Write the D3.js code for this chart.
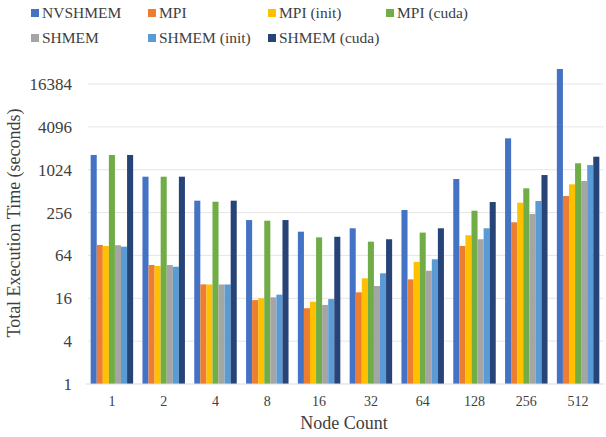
<!DOCTYPE html>
<html><head><meta charset="utf-8">
<script src="https://cdn.jsdelivr.net/npm/d3@7"></script>
<style>body{margin:0;background:#fff}svg{display:block}</style>
</head><body><svg id="c" width="606" height="437"></svg>
<script>
const categories = ["1","2","4","8","16","32","64","128","256","512"];
const seriesNames = ["NVSHMEM","MPI","MPI (init)","MPI (cuda)","SHMEM","SHMEM (init)","SHMEM (cuda)"];
const nvshmem   = [1650, 817, 376, 201, 138, 154, 278, 758, 2825, 26600];
const mpi       = [90, 47, 25.1, 15.1, 11.6, 19.4, 29.5, 87, 187, 438];
const mpiInit   = [87, 45.5, 25, 16, 14.3, 30.5, 52, 123, 352, 638];
const mpiCuda   = [1650, 817, 364, 197, 115, 100, 134, 272, 561, 1260];
const shmem     = [89, 47, 25, 16.5, 12.9, 23.8, 39, 108, 244, 710];
const shmemInit = [85, 44.4, 25, 18, 15.6, 35.9, 56.5, 154, 372, 1190];
const shmemCuda = [1650, 817, 376, 201, 117, 108, 154, 360, 862, 1560];
const yTicks = [1, 4, 16, 64, 256, 1024, 4096, 16384];
const colors = ["#4472C4","#ED7D31","#FFC000","#70AD47","#A5A5A5","#5B9BD5","#264478"];
const seriesValues = [nvshmem, mpi, mpiInit, mpiCuda, shmem, shmemInit, shmemCuda];

const FONT = "'Liberation Serif', 'Times New Roman', serif";
const TXT = "#404040";
const svg = d3.select("#c");
const x = d3.scaleBand().domain(categories).range([86, 604]).paddingInner(0.18).paddingOuter(0.09);
const xs = d3.scaleBand().domain(seriesNames).range([0, x.bandwidth()]).padding(0);
const y = d3.scaleLog().base(2).domain([1, 16384]).range([384, 84]);

// gridlines
svg.append("g").selectAll("line").data(yTicks.slice(1)).join("line")
  .attr("x1", 88).attr("x2", 604).attr("y1", d => y(d)).attr("y2", d => y(d))
  .attr("stroke", "#e6e6e6").attr("stroke-width", 1);

// bars
const groups = svg.append("g").selectAll("g").data(categories).join("g")
  .attr("transform", d => `translate(${x(d)},0)`);
groups.selectAll("rect").data((c, i) => seriesNames.map((s, k) => ({s, k, v: seriesValues[k][i]})))
  .join("rect")
  .attr("x", d => xs(d.s)).attr("width", xs.bandwidth())
  .attr("y", d => y(d.v)).attr("height", d => y(1) - y(d.v))
  .attr("fill", d => colors[d.k]);

// baseline
svg.append("line").attr("x1", 86).attr("x2", 604).attr("y1", y(1)).attr("y2", y(1))
  .attr("stroke", "#d9d9d9").attr("stroke-width", 1);

// y axis
const yAxis = d3.axisLeft(y).tickValues(yTicks).tickFormat(d3.format("d")).tickSize(0).tickPadding(0);
const gy = svg.append("g").attr("transform", "translate(72,0)").call(yAxis);
gy.select(".domain").remove();
gy.selectAll("text").style("font-size", "17px").style("font-family", FONT).style("fill", TXT);

// x axis
const xAxis = d3.axisBottom(x).tickSize(0).tickPadding(0);
const gx = svg.append("g").attr("transform", "translate(0,395)").call(xAxis);
gx.select(".domain").remove();
gx.selectAll("text").style("font-size", "14px").style("font-family", FONT).style("fill", TXT).attr("dy", "0.75em");

// axis titles
svg.append("text").attr("x", 344).attr("y", 429).attr("text-anchor", "middle")
  .style("font-size", "18px").style("font-family", FONT).style("fill", TXT).text("Node Count");
svg.append("text").attr("transform", "translate(20,223) rotate(-90)").attr("text-anchor", "middle")
  .style("font-size", "18px").style("font-family", FONT).style("fill", TXT).text("Total Execution Time (seconds)");

// legend
const legPos = [[31,13],[148,13],[268,13],[386,13],[31,38],[148,38],[268,38]];
const leg = svg.append("g").selectAll("g").data(seriesNames).join("g")
  .attr("transform", (d, i) => `translate(${legPos[i][0]},${legPos[i][1]})`);
leg.append("rect").attr("x", 0).attr("y", -4).attr("width", 8).attr("height", 8).attr("fill", (d, i) => colors[i]);
leg.append("text").attr("x", 11).attr("y", 0).attr("dy", "0.35em")
  .style("font-size", "15.5px").style("font-family", FONT).style("fill", TXT).text(d => d);
</script></body></html>
